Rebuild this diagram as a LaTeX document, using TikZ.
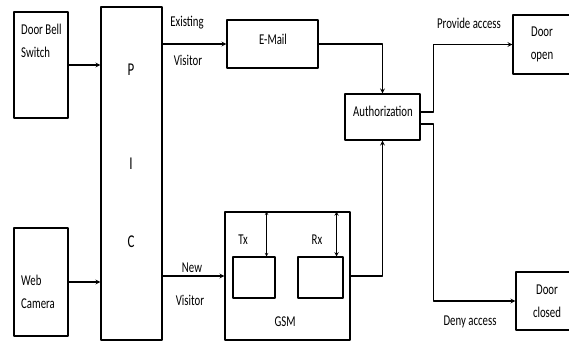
\documentclass[tikz,border=0pt]{standalone}
\usepackage{fontspec}
\setmainfont{Carlito}[FakeStretch=0.72]
\begin{document}
\begin{tikzpicture}[x=1pt, y=-1pt, line cap=round, line join=round, >=stealth, font=\fontsize{15}{23}\selectfont]
	\tikzset{blk/.style={draw, line width=1.1pt, inner sep=0pt}, wire/.style={line width=1.2pt}, txt/.style={inner sep=0pt}}
	\useasboundingbox (0,0) rectangle (569,342);
	% blocks
	\node[blk, minimum width=54pt, minimum height=106pt] (bell) at (41,65) {};
	\node[blk, minimum width=54pt, minimum height=108pt] (cam) at (41,282) {};
	\node[blk, minimum width=61pt, minimum height=333pt] (pic) at (131.5,173.5) {};
	\node[blk, minimum width=91pt, minimum height=48pt] (mail) at (272.5,44) {};
	\node[blk, minimum width=75pt, minimum height=46pt] (auth) at (382.5,117) {};
	\node[blk, minimum width=125pt, minimum height=128pt] (gsm) at (287.5,276) {};
	\node[blk, minimum width=42pt, minimum height=41pt] (tx) at (254,277.5) {};
	\node[blk, minimum width=45pt, minimum height=41pt] (rx) at (320.5,277.5) {};
	\node[blk, minimum width=58pt, minimum height=59pt, align=center] (open) at (542,44.5) {Door\\open};
	\node[blk, minimum width=62pt, minimum height=58pt, align=center] (closed) at (547,301) {Door\\closed};
	% texts in blocks
	\node[txt, anchor=west, align=left] (bell-t) at (21,40.5) {Door Bell\\Switch};
	\node[txt, anchor=west, align=left] (cam-t) at (21,292) {Web\\Camera};
	\foreach \ch/\y in {P/70, I/164, C/242}
		\node[txt, font=\fontsize{18}{20}\selectfont] (pic-\ch) at (131,\y) {\ch};
	\node[txt] (mail-t) at (273,39) {E-Mail};
	\node[txt] (auth-t) at (383,111) {Authorization};
	\node[txt] (gsm-t) at (285,322) {GSM};
	\node[txt] (tx-t) at (243,240) {Tx};
	\node[txt] (rx-t) at (317,240) {Rx};
	% connectors
	\draw[wire, ->] (bell) -- (bell -| pic.west);
	\draw[wire, ->] (cam) -- (cam -| pic.west);
	\draw[wire, ->] (pic.east |- mail.west) -- (mail.west);
	\draw[wire, ->] (pic.east |- gsm.west) -- (gsm.west);
	\draw[wire, ->] (mail.east) -| (auth.north);
	\draw[wire, ->] (gsm.east) -| (auth.south);
	\draw[wire, ->] ([yshift=5pt]auth.east) -- ++(13,0) |- (open.west);
	\draw[wire, ->] ([yshift=-7pt]auth.east) -- ++(13,0) |- (closed.west);
	\coordinate (tx-top) at ([xshift=-9pt]tx.north east);
	\coordinate (rx-top) at ([xshift=-7pt]rx.north east);
	\draw[<->, line width=0.6pt] (tx-top |- gsm.north) -- (tx-top);
	\draw[<->, line width=0.9pt] (rx-top |- gsm.north) -- (rx-top);
	% connector labels
	\node[txt] (exist-t) at (187,23) {Existing};
	\node[txt] (visit-a) at (188,60) {Visitor};
	\node[txt] (new-t) at (192,268) {New};
	\node[txt] (visit-b) at (190,300) {Visitor};
	\node[txt] (prov-t) at (469,23) {Provide access};
	\node[txt] (deny-t) at (470,322) {Deny access};
\end{tikzpicture}
\end{document}
